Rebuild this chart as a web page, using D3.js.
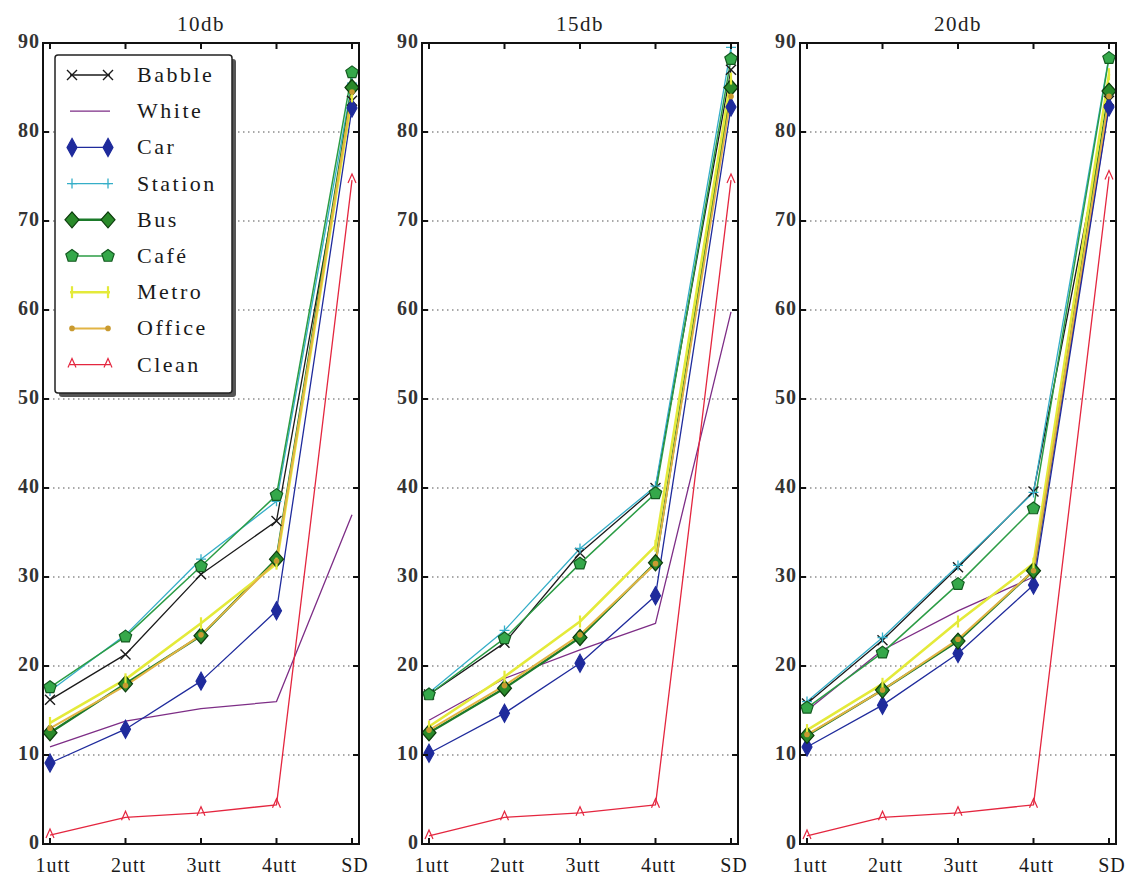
<!DOCTYPE html>
<html>
<head>
<meta charset="utf-8">
<script src="https://cdn.jsdelivr.net/npm/d3@7"></script>
<style>
  body { margin: 0; background: #fff; }
  svg { display: block; font-family: "Liberation Serif", "DejaVu Serif", serif; }
</style>
</head>
<body>
<div id="chart"></div>
<script>
// x categories and panel titles
const categories = ["1utt", "2utt", "3utt", "4utt", "SD"];
const panels = ["10db", "15db", "20db"];
const yTicks = [0, 10, 20, 30, 40, 50, 60, 70, 80, 90];
const seriesNames = ["Babble", "White", "Car", "Station", "Bus", "Café", "Metro", "Office", "Clean"];

// one row per panel (10db, 15db, 20db), one value per category
const babble  = [[16.2, 21.3, 30.3, 36.3, 83.5], [16.8, 22.6, 32.7, 40.0, 87.0], [15.8, 22.9, 31.1, 39.6, 83.5]];
const white   = [[10.9, 13.8, 15.2, 16.0, 37.0], [13.9, 18.6, 21.8, 24.8, 59.8], [15.0, 21.8, 26.2, 30.0, 83.0]];
const car     = [[9.1, 12.9, 18.3, 26.2, 82.7], [10.2, 14.7, 20.3, 27.9, 82.8], [10.9, 15.6, 21.4, 29.1, 82.8]];
const station = [[17.2, 23.5, 32.0, 38.5, 85.5], [17.0, 24.0, 33.2, 40.2, 89.5], [16.0, 23.2, 31.3, 39.5, 88.5]];
const bus     = [[12.5, 18.0, 23.4, 32.0, 85.0], [12.5, 17.5, 23.2, 31.6, 85.0], [12.2, 17.3, 22.8, 30.7, 84.6]];
const cafe    = [[17.6, 23.3, 31.2, 39.2, 86.7], [16.8, 23.1, 31.5, 39.4, 88.2], [15.3, 21.5, 29.2, 37.7, 88.3]];
const metro   = [[13.6, 18.5, 24.8, 31.5, 84.0], [13.2, 18.8, 25.0, 33.5, 86.0], [12.8, 18.0, 25.0, 31.5, 86.5]];
const office  = [[13.0, 17.8, 23.5, 31.8, 84.5], [12.8, 17.8, 23.5, 31.5, 84.0], [12.3, 17.3, 23.0, 30.7, 84.0]];
const clean   = [[1.0, 3.0, 3.5, 4.4, 74.6], [0.9, 3.0, 3.5, 4.4, 74.6], [0.9, 3.0, 3.5, 4.4, 75.0]];

const seriesValues = [babble, white, car, station, bus, cafe, metro, office, clean];

// look of each series
const styles = {
    "Babble":  { color: "#1a1a1a", width: 1.3, marker: "x" },
    "White":   { color: "#7d2d86", width: 1.3, marker: null },
    "Car":     { color: "#1f2b9c", width: 1.3, marker: "diamond", fill: "#1f2b9c" },
    "Station": { color: "#35aec8", width: 1.3, marker: "plus" },
    "Bus":     { color: "#1b7a2a", width: 2.4, marker: "diamond", fill: "#2a8a2a", edge: "#0d3d0d", big: true },
    "Café":    { color: "#2b9c45", width: 1.5, marker: "pentagon", fill: "#35a84a", edge: "#145a20" },
    "Metro":   { color: "#e4ea3a", width: 2.6, marker: "bar" },
    "Office":  { color: "#e2b444", width: 2.0, marker: "dot" },
    "Clean":   { color: "#e4263f", width: 1.3, marker: "tri" }
};

const width = 1134, height = 877;
const yTop = 43, yBottom = 844;
const panelLeft = [43, 422, 800];
const panelWidth = 316;

const svg = d3.select("#chart").append("svg")
    .attr("width", width)
    .attr("height", height);

const y = d3.scaleLinear().domain([0, 90]).range([yBottom, yTop]);

function drawMarker(g, kind, st, cx, cy) {
    if (kind === "x") {
        g.append("path")
            .attr("d", `M${cx - 5},${cy - 5}L${cx + 5},${cy + 5}M${cx - 5},${cy + 5}L${cx + 5},${cy - 5}`)
            .attr("stroke", st.color).attr("stroke-width", 1.4).attr("fill", "none");
    } else if (kind === "plus") {
        g.append("path")
            .attr("d", `M${cx - 5},${cy}L${cx + 5},${cy}M${cx},${cy - 5}L${cx},${cy + 5}`)
            .attr("stroke", st.color).attr("stroke-width", 1.3).attr("fill", "none");
    } else if (kind === "diamond") {
        const w = st.big ? 7 : 5, h = st.big ? 8 : 9;
        g.append("path")
            .attr("d", `M${cx},${cy - h}L${cx + w},${cy}L${cx},${cy + h}L${cx - w},${cy}Z`)
            .attr("fill", st.fill).attr("stroke", st.edge || st.color).attr("stroke-width", 1.2);
    } else if (kind === "pentagon") {
        const r = 6.5;
        const pts = d3.range(5).map(i => {
            const a = -Math.PI / 2 + i * 2 * Math.PI / 5;
            return [cx + r * Math.cos(a), cy + r * Math.sin(a)];
        });
        g.append("path")
            .attr("d", d3.line()(pts) + "Z")
            .attr("fill", st.fill).attr("stroke", st.edge).attr("stroke-width", 1.2);
    } else if (kind === "bar") {
        g.append("path")
            .attr("d", `M${cx},${cy - 6}L${cx},${cy + 6}`)
            .attr("stroke", st.color).attr("stroke-width", 2.2);
    } else if (kind === "dot") {
        g.append("circle").attr("cx", cx).attr("cy", cy).attr("r", 2.8)
            .attr("fill", "#c99a30");
    } else if (kind === "tri") {
        g.append("path")
            .attr("d", `M${cx - 4},${cy + 3}L${cx},${cy - 6}L${cx + 4},${cy + 3}`)
            .attr("stroke", st.color).attr("stroke-width", 1.2).attr("fill", "none");
    }
}

panels.forEach((title, p) => {
    const left = panelLeft[p], right = left + panelWidth;
    const x = d3.scalePoint().domain(categories).range([left + 7, right - 7]);
    const g = svg.append("g");

    // dotted grid
    g.selectAll(".grid").data(yTicks.filter(t => t > 0 && t < 90)).enter()
        .append("line")
        .attr("x1", left).attr("x2", right)
        .attr("y1", d => y(d)).attr("y2", d => y(d))
        .attr("stroke", "#555").attr("stroke-width", 1.2)
        .attr("stroke-dasharray", "1.5,3.5");

    // series lines
    seriesNames.forEach((name, s) => {
        const st = styles[name];
        const vals = seriesValues[s][p];
        const line = d3.line().x((d, i) => x(categories[i])).y(d => y(d));
        g.append("path")
            .attr("d", line(vals))
            .attr("fill", "none")
            .attr("stroke", st.color)
            .attr("stroke-width", st.width)
            .attr("stroke-linejoin", "round");
    });
    // markers on top
    seriesNames.forEach((name, s) => {
        const st = styles[name];
        if (!st.marker) return;
        seriesValues[s][p].forEach((v, i) => drawMarker(g, st.marker, st, x(categories[i]), y(v)));
    });

    // frame
    g.append("rect")
        .attr("x", left).attr("y", yTop)
        .attr("width", panelWidth).attr("height", yBottom - yTop)
        .attr("fill", "none").attr("stroke", "#111").attr("stroke-width", 2);

    // y ticks both sides
    yTicks.forEach(t => {
        g.append("line").attr("x1", left).attr("x2", left + 6)
            .attr("y1", y(t)).attr("y2", y(t)).attr("stroke", "#111").attr("stroke-width", 2);
        g.append("line").attr("x1", right - 6).attr("x2", right)
            .attr("y1", y(t)).attr("y2", y(t)).attr("stroke", "#111").attr("stroke-width", 2);
    });
    g.selectAll(".ylab").data(yTicks).enter()
        .append("text")
        .attr("x", left - 3)
        .attr("y", d => y(d) + 5)
        .attr("text-anchor", "end")
        .attr("font-size", 20)
        .attr("font-weight", "bold")
        .attr("letter-spacing", 1)
        .attr("fill", "#333")
        .text(d => d);

    // x ticks top and bottom
    categories.forEach(c => {
        g.append("line").attr("x1", x(c)).attr("x2", x(c))
            .attr("y1", yBottom).attr("y2", yBottom - 6).attr("stroke", "#111").attr("stroke-width", 2);
        g.append("line").attr("x1", x(c)).attr("x2", x(c))
            .attr("y1", yTop).attr("y2", yTop + 6).attr("stroke", "#111").attr("stroke-width", 2);
    });
    g.selectAll(".xlab").data(categories).enter()
        .append("text")
        .attr("x", d => x(d) + 3)
        .attr("y", 872)
        .attr("text-anchor", "middle")
        .attr("font-size", 20)
        .attr("letter-spacing", 1)
        .attr("fill", "#1a1a1a")
        .text(d => d);

    g.append("text")
        .attr("x", (left + right) / 2)
        .attr("y", 31)
        .attr("text-anchor", "middle")
        .attr("font-size", 21)
        .attr("letter-spacing", 1.5)
        .attr("fill", "#222")
        .text(title);
});

// legend in first panel
const leg = svg.append("g");
leg.append("rect")
    .attr("x", 59).attr("y", 59).attr("width", 177).attr("height", 338)
    .attr("rx", 3).attr("fill", "#555");
leg.append("rect")
    .attr("x", 55).attr("y", 55).attr("width", 177).attr("height", 338)
    .attr("rx", 3).attr("fill", "#fff").attr("stroke", "#222").attr("stroke-width", 1.5);

seriesNames.forEach((name, i) => {
    const st = styles[name];
    const ly = 75 + i * 36.2;
    leg.append("line")
        .attr("x1", 70).attr("x2", 110).attr("y1", ly).attr("y2", ly)
        .attr("stroke", st.color).attr("stroke-width", st.width);
    if (st.marker) {
        drawMarker(leg, st.marker, st, 72, ly);
        drawMarker(leg, st.marker, st, 108, ly);
    }
    leg.append("text")
        .attr("x", 137).attr("y", ly + 7)
        .attr("font-size", 22)
        .attr("letter-spacing", 2.5)
        .attr("fill", "#1a1a1a")
        .text(name);
});
</script>
</body>
</html>
